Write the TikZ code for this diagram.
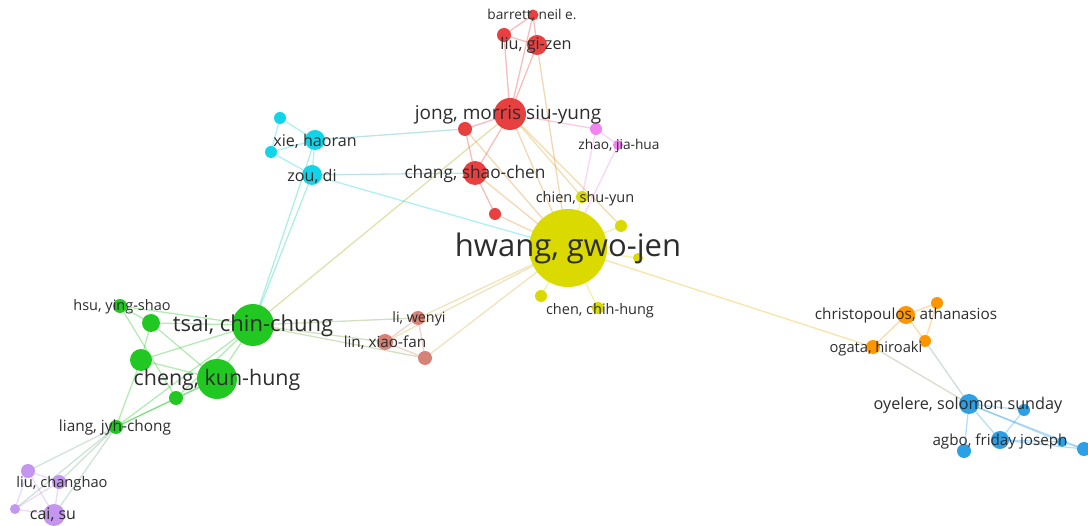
\documentclass[tikz,border=0pt]{standalone}
\usepackage{fontspec}
\setmainfont{Open Sans}
\pgfdeclarelayer{bg}
\pgfdeclarelayer{edges}
\pgfsetlayers{bg,edges,main}
\definecolor{yel}{RGB}{218,218,0}
\definecolor{rd}{RGB}{232,64,64}
\definecolor{grn}{RGB}{34,200,34}
\definecolor{cyn}{RGB}{17,212,232}
\definecolor{pur}{RGB}{196,150,240}
\definecolor{brn}{RGB}{214,130,118}
\definecolor{org}{RGB}{255,150,0}
\definecolor{blu}{RGB}{44,160,230}
\definecolor{pnk}{RGB}{242,132,242}
\definecolor{txt}{RGB}{45,45,45}
\tikzset{
  vn/.style={circle, inner sep=0pt, minimum size=#1},
  lbl/.style={text=txt, inner sep=0pt, font=\fontsize{#1}{#1}\selectfont},
  ed/.style={draw=#1, line width=1.3pt, draw opacity=0.34},
}
\begin{document}
\begin{tikzpicture}[x=1pt,y=-1pt]
\begin{pgfonlayer}{bg}
\fill[white] (0,0) rectangle (1088,526);
\end{pgfonlayer}
\useasboundingbox (0,0) rectangle (1088,526);
% ---- nodes ----
% yellow
\node[vn=78, fill=yel] (hw) at (568,248) {};
\node[vn=12, fill=yel] (chien) at (582,197) {};
\node[vn=12, fill=yel] (y1) at (621,226) {};
\node[vn=10, fill=yel] (y2) at (638,258) {};
\node[vn=12, fill=yel] (y3) at (541,296) {};
\node[vn=12, fill=yel] (chen) at (598,308) {};
% red
\node[vn=32, fill=rd] (jong) at (510,114) {};
\node[vn=14, fill=rd] (r1) at (465,129) {};
\node[vn=24, fill=rd] (chang) at (475,173) {};
\node[vn=12, fill=rd] (r2) at (495,214) {};
\node[vn=20, fill=rd] (liu) at (537,45) {};
\node[vn=14, fill=rd] (r3) at (504,35) {};
\node[vn=11, fill=rd] (barrett) at (533,15) {};
% pink
\node[vn=12, fill=pnk] (p1) at (596,129) {};
\node[vn=10, fill=pnk] (zhao) at (618,145) {};
% cyan
\node[vn=20, fill=cyn] (xie) at (315,140) {};
\node[vn=12, fill=cyn] (c1) at (280,118) {};
\node[vn=12, fill=cyn] (c2) at (271,152) {};
\node[vn=20, fill=cyn] (zou) at (312,175) {};
% green
\node[vn=42, fill=grn] (tsai) at (253,325) {};
\node[vn=40, fill=grn] (cheng) at (217,379) {};
\node[vn=14, fill=grn] (hsu) at (120,306) {};
\node[vn=18, fill=grn] (g1) at (151,323) {};
\node[vn=22, fill=grn] (g2) at (141,360) {};
\node[vn=14, fill=grn] (g3) at (176,398) {};
\node[vn=14, fill=grn] (liang) at (116,427) {};
% purple
\node[vn=14, fill=pur] (v1) at (28,471) {};
\node[vn=14, fill=pur] (v2) at (59,482) {};
\node[vn=10, fill=pur] (v3) at (15,509) {};
\node[vn=22, fill=pur] (cai) at (54,515) {};
% brown
\node[vn=14, fill=brn] (wenyi) at (418,318) {};
\node[vn=16, fill=brn] (lin) at (385,342) {};
\node[vn=14, fill=brn] (b1) at (425,358) {};
% orange
\node[vn=18, fill=org] (christ) at (906,315) {};
\node[vn=12, fill=org] (o1) at (937,303) {};
\node[vn=12, fill=org] (o2) at (925,341) {};
\node[vn=14, fill=org] (ogata) at (873,347) {};
% blue
\node[vn=20, fill=blu] (oyelere) at (969,404) {};
\node[vn=12, fill=blu] (bl1) at (1024,410) {};
\node[vn=18, fill=blu] (agbo) at (1000,440) {};
\node[vn=14, fill=blu] (bl2) at (964,451) {};
\node[vn=10, fill=blu] (bl3) at (1062,442) {};
\node[vn=14, fill=blu] (bl4) at (1084,449) {};
% ---- edges ----
\begin{pgfonlayer}{edges}
% red cluster
\draw[ed=rd] (barrett.center) -- (r3.center);
\draw[ed=rd] (barrett.center) -- (liu.center);
\draw[ed=rd] (r3.center) -- (liu.center);
\draw[ed=rd] (r3.center) -- (jong.center);
\draw[ed=rd] (liu.center) -- (jong.center);
\draw[ed=rd] (barrett.center) -- (jong.center);
\draw[ed=rd!50!yel] (liu.center) -- (hw.center);
\draw[ed=rd] (jong.center) -- (r1.center);
\draw[ed=rd] (jong.center) -- (chang.center);
\draw[ed=rd] (r1.center) -- (chang.center);
\draw[ed=rd] (chang.center) -- (r2.center);
\draw[ed=rd!50!yel] (jong.center) -- (hw.center);
\draw[ed=rd!40!yel] (jong.center) -- (chien.center);
\draw[ed=rd!40!yel] (jong.center) -- (y1.center);
\draw[ed=rd!50!yel] (chang.center) -- (hw.center);
\draw[ed=rd!50!yel] (r1.center) -- (hw.center);
\draw[ed=rd!50!yel] (r2.center) -- (hw.center);
\draw[ed=pnk!60!rd] (jong.center) -- (p1.center);
% pink
\draw[ed=pnk] (p1.center) -- (zhao.center);
\draw[ed=pnk] (p1.center) -- (chien.center);
\draw[ed=pnk] (zhao.center) -- (hw.center);
% cyan
\draw[ed=cyn] (c1.center) -- (xie.center);
\draw[ed=cyn] (c1.center) -- (c2.center);
\draw[ed=cyn] (c2.center) -- (xie.center);
\draw[ed=cyn] (c2.center) -- (zou.center);
\draw[ed=cyn] (xie.center) -- (zou.center);
\draw[ed=cyn!60!gray] (xie.center) -- (r1.center);
\draw[ed=cyn!60!gray] (zou.center) -- (chang.center);
\draw[ed=cyn] (zou.center) -- (hw.center);
\draw[ed=cyn!70!grn] (tsai.center) -- (zou.center);
\draw[ed=cyn!70!grn] (tsai.center) -- (xie.center);
\draw[ed=org!60!grn] (tsai.center) -- (jong.center);
% yellow
\draw[ed=yel] (hw.center) -- (chien.center);
\draw[ed=yel] (hw.center) -- (y1.center);
\draw[ed=yel] (hw.center) -- (y2.center);
\draw[ed=yel] (hw.center) -- (y3.center);
\draw[ed=yel] (hw.center) -- (chen.center);
\draw[ed=org!60!yel] (hw.center) -- (ogata.center);
% brown
\draw[ed=brn] (wenyi.center) -- (lin.center);
\draw[ed=brn] (wenyi.center) -- (b1.center);
\draw[ed=brn] (lin.center) -- (b1.center);
\draw[ed=brn!50!yel] (wenyi.center) -- (hw.center);
\draw[ed=brn!50!yel] (lin.center) -- (hw.center);
\draw[ed=brn!50!yel] (b1.center) -- (hw.center);
\draw[ed=brn!50!grn] (tsai.center) -- (wenyi.center);
\draw[ed=brn!50!grn] (tsai.center) -- (lin.center);
\draw[ed=brn!50!grn] (tsai.center) -- (b1.center);
% green
\draw[ed=grn] (tsai.center) -- (cheng.center);
\draw[ed=grn] (tsai.center) -- (hsu.center);
\draw[ed=grn] (tsai.center) -- (g1.center);
\draw[ed=grn] (tsai.center) -- (g2.center);
\draw[ed=grn] (tsai.center) -- (g3.center);
\draw[ed=grn] (tsai.center) -- (liang.center);
\draw[ed=grn] (cheng.center) -- (g2.center);
\draw[ed=grn] (cheng.center) -- (g3.center);
\draw[ed=grn] (cheng.center) -- (liang.center);
\draw[ed=grn] (cheng.center) -- (g1.center);
\draw[ed=grn] (hsu.center) -- (g1.center);
\draw[ed=grn] (hsu.center) -- (g3.center);
\draw[ed=grn] (g1.center) -- (g2.center);
\draw[ed=grn] (g2.center) -- (liang.center);
\draw[ed=grn] (g3.center) -- (liang.center);
% purple
\draw[ed=pur] (v1.center) -- (v2.center);
\draw[ed=pur] (v1.center) -- (cai.center);
\draw[ed=pur] (v1.center) -- (v3.center);
\draw[ed=pur] (v2.center) -- (v3.center);
\draw[ed=pur] (v2.center) -- (cai.center);
\draw[ed=pur] (v3.center) -- (cai.center);
\draw[ed=pur!50!grn] (liang.center) -- (v1.center);
\draw[ed=pur!50!grn] (liang.center) -- (v2.center);
\draw[ed=pur!50!grn] (liang.center) -- (cai.center);
\draw[ed=pur!50!grn] (liang.center) -- (v3.center);
% orange
\draw[ed=org] (christ.center) -- (o1.center);
\draw[ed=org] (christ.center) -- (o2.center);
\draw[ed=org] (christ.center) -- (ogata.center);
\draw[ed=org] (o1.center) -- (o2.center);
\draw[ed=org!50!blu] (ogata.center) -- (oyelere.center);
\draw[ed=org!40!blu] (o2.center) -- (oyelere.center);
% blue
\draw[ed=blu] (oyelere.center) -- (bl1.center);
\draw[ed=blu] (oyelere.center) -- (agbo.center);
\draw[ed=blu] (oyelere.center) -- (bl2.center);
\draw[ed=blu] (oyelere.center) -- (bl3.center);
\draw[ed=blu] (oyelere.center) -- (bl4.center);
\draw[ed=blu] (bl1.center) -- (agbo.center);
\draw[ed=blu] (agbo.center) -- (bl3.center);
\draw[ed=blu] (agbo.center) -- (bl4.center);
\draw[ed=blu] (bl3.center) -- (bl4.center);
\end{pgfonlayer}
% ---- labels ----
\node[lbl=31] (hw-l) at (568,248) {hwang, gwo-jen};
\node[lbl=19] (jong-l) at (508,115) {jong, morris siu-yung};
\node[lbl=17.3] (chang-l) at (475,174) {chang, shao-chen};
\node[lbl=16.2] (liu-l) at (536,45) {liu, gi-zen};
\node[lbl=13.7] (barrett-l) at (532,15) {barrett, neil e.};
\node[lbl=13.7] (zhao-l) at (619,146) {zhao, jia-hua};
\node[lbl=14.5] (chien-l) at (585,199) {chien, shu-yun};
\node[lbl=14.5] (chen-l) at (600,311) {chen, chih-hung};
\node[lbl=16.1] (xie-l) at (315,141) {xie, haoran};
\node[lbl=16.1] (zou-l) at (312,176) {zou, di};
\node[lbl=22] (tsai-l) at (253,326) {tsai, chin-chung};
\node[lbl=21.4] (cheng-l) at (217,380) {cheng, kun-hung};
\node[lbl=14.5] (hsu-l) at (122,307) {hsu, ying-shao};
\node[lbl=15.4] (liang-l) at (115,428) {liang, jyh-chong};
\node[lbl=14.7] (v2-l) at (62,484) {liu, changhao};
\node[lbl=16] (cai-l) at (53,515) {cai, su};
\node[lbl=14.3] (wenyi-l) at (419,319) {li, wenyi};
\node[lbl=15.3] (lin-l) at (385,343) {lin, xiao-fan};
\node[lbl=15.3] (christ-l) at (906,316) {christopoulos, athanasios};
\node[lbl=14.7] (ogata-l) at (876,349) {ogata, hiroaki};
\node[lbl=16.2] (oyelere-l) at (968,405) {oyelere, solomon sunday};
\node[lbl=15.2] (agbo-l) at (1000,442) {agbo, friday joseph};
\end{tikzpicture}
\end{document}
